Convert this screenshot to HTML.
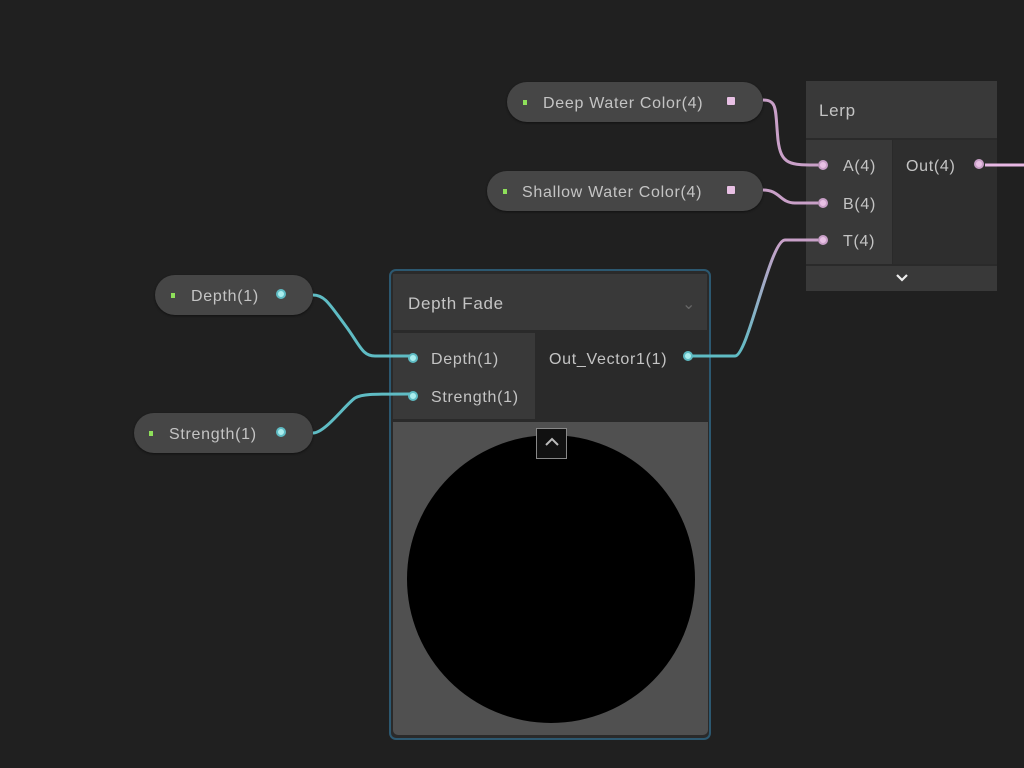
<!DOCTYPE html>
<html><head><meta charset="utf-8"><style>
body{margin:0;width:1024px;height:768px;background:#202020;position:relative;overflow:hidden;font-family:"Liberation Sans",sans-serif;color:#c4c4c4;font-size:16px;letter-spacing:0.7px}
.a{position:absolute}
.pill{position:absolute;background:#464646;border-radius:20px;height:40px;box-shadow:0 1px 2px #111}
.pill span{position:absolute;top:13px}
.g{position:absolute;width:4px;height:5px;background:#8ee05a;top:18px}
.pp{position:absolute;width:8px;height:8px;border-radius:2px;background:#e8c0e4;border:1px solid #444;}
.port{position:absolute;width:6px;height:6px;border-radius:50%;border:2px solid;box-sizing:content-box;z-index:3}
</style></head><body>
<svg class="a" style="left:0;top:0;z-index:2" width="1024" height="768">
<defs><linearGradient id="tg" x1="0" y1="1" x2="0" y2="0"><stop offset="0" stop-color="#5fbcc4"/><stop offset="1" stop-color="#c9a0c8"/></linearGradient></defs>
<g fill="none" stroke-width="3">
<path d="M763 100 C778 100 775 110 778 140 C781 165 790 165 818 165" stroke="#c9a0c8"/>
<path d="M763 190 C780 190 780 203 795 203 L818 203" stroke="#c9a0c8"/>
<path d="M985 165 L1024 165" stroke="#e8b8e4"/>
<path d="M690 356 L735 356 C748 356 770 240 785 240 L818 240" stroke="url(#tg)"/>
<path d="M313 295 C325 295 330 305 345 325 C360 345 362 356 375 356 L410 356" stroke="#5fbcc4"/>
<path d="M313 433 C325 433 345 405 355 398 C362 394 370 394 410 394" stroke="#5fbcc4"/>
</g></svg>

<div class="pill" style="left:507px;top:82px;width:256px"><div class="g" style="left:16px"></div><span style="left:36px">Deep Water Color(4)</span><div class="pp" style="left:219px;top:14px"></div></div>
<div class="pill" style="left:487px;top:171px;width:276px"><div class="g" style="left:16px"></div><span style="left:35px">Shallow Water Color(4)</span><div class="pp" style="left:239px;top:14px"></div></div>
<div class="pill" style="left:155px;top:275px;width:158px"><div class="g" style="left:16px"></div><span style="left:36px">Depth(1)</span><div class="port" style="left:121px;top:14px;border-color:#5fbcc4;background:#aee"></div></div>
<div class="pill" style="left:134px;top:413px;width:179px"><div class="g" style="left:15px"></div><span style="left:35px">Strength(1)</span><div class="port" style="left:142px;top:14px;border-color:#5fbcc4;background:#aee"></div></div>

<!-- Lerp -->
<div class="a" style="left:806px;top:81px;width:191px;height:210px;background:#2a2a2a">
 <div class="a" style="left:0;top:0;width:191px;height:57px;background:#393939"><span class="a" style="left:13px;top:20px;font-size:17px">Lerp</span></div>
 <div class="a" style="left:0;top:59px;width:86px;height:124px;background:#393939"></div>
 <div class="a" style="left:87px;top:59px;width:104px;height:124px;background:#2e2e2e"></div>
 <div class="a" style="left:0;top:185px;width:191px;height:25px;background:#393939"></div>
 <svg class="a" style="left:89px;top:192px" width="14" height="10"><path d="M2 2 L7 7 L12 2" fill="none" stroke="#eee" stroke-width="2.2"/></svg>
 <div class="port" style="left:12px;top:79px;border-color:#c9a0c8;background:#e8c0e4"></div><span class="a" style="left:37px;top:77px">A(4)</span>
 <div class="port" style="left:12px;top:117px;border-color:#c9a0c8;background:#e8c0e4"></div><span class="a" style="left:37px;top:115px">B(4)</span>
 <div class="port" style="left:12px;top:154px;border-color:#c9a0c8;background:#e8c0e4"></div><span class="a" style="left:37px;top:152px">T(4)</span>
 <span class="a" style="left:100px;top:77px">Out(4)</span>
 <div class="port" style="left:168px;top:78px;border-color:#c9a0c8;background:#e8c0e4"></div>
</div>

<!-- Depth Fade -->
<div class="a" style="left:389px;top:269px;width:318px;height:467px;border:2px solid #2c5870;border-radius:7px;background:#2a2a2a">
 <div class="a" style="left:2px;top:3px;width:314px;height:56px;background:#393939"><span class="a" style="left:15px;top:20px;font-size:17px">Depth Fade</span><span class="a" style="left:289px;top:20px;color:#666">&#8964;</span></div>
 <div class="a" style="left:2px;top:62px;width:142px;height:86px;background:#393939"></div>
 <div class="port" style="left:17px;top:82px;border-color:#5fbcc4;background:#aee"></div><span class="a" style="left:40px;top:80px">Depth(1)</span>
 <div class="port" style="left:17px;top:120px;border-color:#5fbcc4;background:#aee"></div><span class="a" style="left:40px;top:118px">Strength(1)</span>
 <span class="a" style="left:158px;top:80px">Out_Vector1(1)</span>
 <div class="port" style="left:292px;top:80px;border-color:#5fbcc4;background:#aee"></div>
 <div class="a" style="left:2px;top:151px;width:315px;height:313px;background:#505050;border-radius:0 0 5px 5px">
  <div class="a" style="left:14px;top:13px;width:288px;height:288px;border-radius:50%;background:#000"></div>
  <div class="a" style="left:143px;top:6px;width:31px;height:31px;border:1px solid #888;box-sizing:border-box;background:#111"><svg class="a" style="left:7px;top:8px" width="16" height="10"><path d="M2 8 L8 2 L14 8" fill="none" stroke="#bbb" stroke-width="2"/></svg></div>
 </div>
</div>
</body></html>
